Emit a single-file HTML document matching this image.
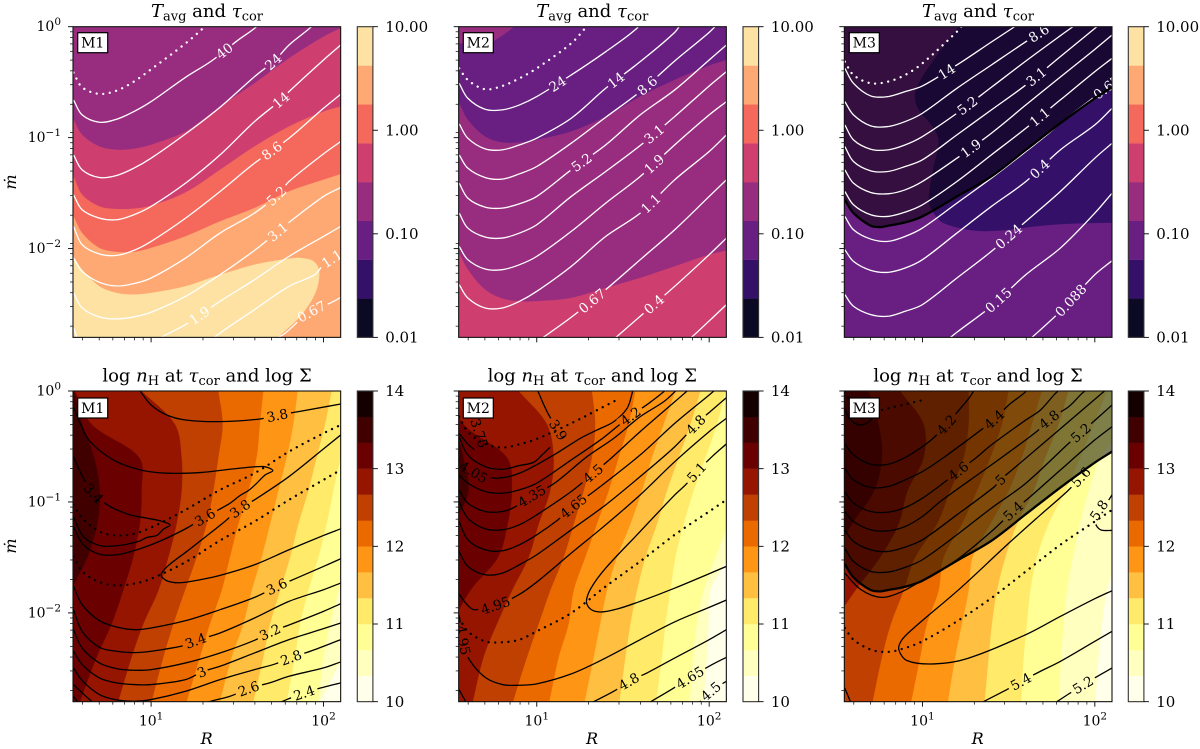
<!DOCTYPE html>
<html lang="en">
<head>
<meta charset="utf-8">
<title>Tavg, tau and density contour maps</title>
<style>
html,body{margin:0;padding:0;background:#fff;overflow:hidden;}
svg{display:block;font-family:"DejaVu Serif","Liberation Serif",serif;}
.t{font-size:18px;text-anchor:middle;fill:#000;}
.a{font-size:16px;font-style:italic;text-anchor:middle;fill:#000;}
.b{font-size:14px;text-anchor:middle;fill:#000;}
</style>
</head>
<body>
<svg id="fig" xmlns="http://www.w3.org/2000/svg" width="1200" height="749" viewBox="0 0 1200 749">
<rect width="1200" height="749" fill="#fff"/>
<defs id="defs"></defs>
<g id="plots"></g>

<g>
<text class="t" x="207" y="17"><tspan font-style="italic">T</tspan><tspan font-size="13" dy="3.5">avg</tspan><tspan dy="-3.5"> and </tspan><tspan font-style="italic">τ</tspan><tspan font-size="13" dy="3.5">cor</tspan></text>
<text class="t" x="592.3" y="17"><tspan font-style="italic">T</tspan><tspan font-size="13" dy="3.5">avg</tspan><tspan dy="-3.5"> and </tspan><tspan font-style="italic">τ</tspan><tspan font-size="13" dy="3.5">cor</tspan></text>
<text class="t" x="978" y="17"><tspan font-style="italic">T</tspan><tspan font-size="13" dy="3.5">avg</tspan><tspan dy="-3.5"> and </tspan><tspan font-style="italic">τ</tspan><tspan font-size="13" dy="3.5">cor</tspan></text>
<text class="t" x="207" y="381.5">log <tspan font-style="italic">n</tspan><tspan font-size="13" dy="3.5">H</tspan><tspan dy="-3.5"> at </tspan><tspan font-style="italic">τ</tspan><tspan font-size="13" dy="3.5">cor</tspan><tspan dy="-3.5"> and log Σ</tspan></text>
<text class="t" x="592.3" y="381.5">log <tspan font-style="italic">n</tspan><tspan font-size="13" dy="3.5">H</tspan><tspan dy="-3.5"> at </tspan><tspan font-style="italic">τ</tspan><tspan font-size="13" dy="3.5">cor</tspan><tspan dy="-3.5"> and log Σ</tspan></text>
<text class="t" x="978" y="381.5">log <tspan font-style="italic">n</tspan><tspan font-size="13" dy="3.5">H</tspan><tspan dy="-3.5"> at </tspan><tspan font-style="italic">τ</tspan><tspan font-size="13" dy="3.5">cor</tspan><tspan dy="-3.5"> and log Σ</tspan></text>
</g>

<g>
<text class="a" transform="translate(16,182) rotate(-90)">ṁ</text>
<text class="a" transform="translate(16,546) rotate(-90)">ṁ</text>
<text class="a" x="206.7" y="744">R</text>
<text class="a" x="592" y="744">R</text>
<text class="a" x="977.7" y="744">R</text>
</g>

<g>
<rect x="77.7" y="32.7" width="30" height="20" fill="#fff" stroke="#000" stroke-width="1.2"/>
<text class="b" x="92.7" y="47.7">M1</text>
<rect x="463.3" y="32.7" width="30" height="20" fill="#fff" stroke="#000" stroke-width="1.2"/>
<text class="b" x="478.3" y="47.7">M2</text>
<rect x="849.3" y="32.7" width="30" height="20" fill="#fff" stroke="#000" stroke-width="1.2"/>
<text class="b" x="864.3" y="47.7">M3</text>
<rect x="77.7" y="398" width="30" height="20" fill="#fff" stroke="#000" stroke-width="1.2"/>
<text class="b" x="92.7" y="413">M1</text>
<rect x="463.3" y="398" width="30" height="20" fill="#fff" stroke="#000" stroke-width="1.2"/>
<text class="b" x="478.3" y="413">M2</text>
<rect x="849.3" y="398" width="30" height="20" fill="#fff" stroke="#000" stroke-width="1.2"/>
<text class="b" x="864.3" y="413">M3</text>
</g>
</svg>

<script>
/* ---------- values: x = log10 R, y = log10 mdot ---------- */
const xGrid = [.55,.6,.7,.8,.9,1,1.2,1.4,1.6,1.8,2,2.1];
const yGrid = [0,-.3,-.6,-.9,-1.2,-1.5,-1.8,-2.1,-2.4,-2.8];
const xMajorTicks = [1,2];
const xMajorLabels = ['1','2'];
const xMinorTicks = [.602,.699,.778,.845,.903,.954,1.301,1.477,1.602,1.699,1.778,1.845,1.903,1.954];
const yMajorTicks = [0,-1,-2];
const yMajorLabels = ['0','−1','−2'];
const yMinorOffsets = [-.046,-.097,-.155,-.222,-.301,-.398,-.523,-.699,-.954];
const tempBarTicks = [-2,-1,0,1];
const tempBarLabels = ['0.01','0.10','1.00','10.00'];
const tempBarColors = ['#0b0924','#341069','#681f81','#982d80','#ce3f70','#f4695c','#fea973','#fde2a3'];
const densBarTicks = [10,11,12,13,14];
const densBarLabels = ['10','11','12','13','14'];
const densBarColors = ['#ffffea','#ffffbf','#ffff95','#ffea6a','#ffbf40','#ff9515','#ea6a00','#bf4000','#951500','#6a0000','#400000','#150000'];

/* M1 temperature */
const m1TempBandColors = ['#ce3f70','#f4695c','#fea973','#fde2a3'];
const m1TempBands = [
 [-.84,-.975,-1.08,-1.11,-1.101,-1.065,-.945,-.72,-.51,-.285,-.09,-.015],
 [-1.35,-1.515,-1.62,-1.644,-1.641,-1.614,-1.494,-1.29,-1.08,-.9,-.765,-.72],
 [-1.71,-1.86,-1.995,-2.031,-2.031,-1.995,-1.89,-1.755,-1.635,-1.485,-1.38,-1.329]
];
const m1TempBlob = [[.549,-2.07],[.6,-2.19],[.7,-2.34],[.8,-2.4],[.899,-2.415],[1,-2.4],[1.2,-2.34],[1.362,-2.256],[1.6,-2.145],[1.8,-2.091],[1.865,-2.085],[1.942,-2.115],[1.975,-2.205],[1.952,-2.4],[1.865,-2.61],[1.739,-2.796],[1.691,-2.88]];
const m1TempDotted = [[.55,-.414],[.6,-.546],[.7,-.606],[.8,-.576],[.9,-.495],[1,-.384],[1.2,-.15],[1.31,0],[1.35,.08]];
const m1TempLevels = ['40','24','14','8.6','5.2','3.1','1.9','1.1','0.67',''];
const m1TempLabelR = [1.43,1.72,1.77,1.71,1.74,1.75,1.284,2.05,1.936,0];
const m1TempCurves = [
 [[.55,-.66],[.6,-.795],[.7,-.861],[.8,-.834],[.9,-.765],[1,-.675],[1.2,-.456],[1.35,-.309],[1.5,-.126],[1.6,-.015],[1.65,.06]],
 [[.55,-1.155],[.6,-1.29],[.7,-1.359],[.8,-1.341],[.9,-1.275],[1,-1.185],[1.2,-.966],[1.4,-.726],[1.6,-.45],[1.72,-.3],[1.8,-.165],[1.93,0],[2,.12]],
 [[.55,-1.515],[.6,-1.65],[.7,-1.725],[.8,-1.74],[.9,-1.695],[1,-1.62],[1.2,-1.41],[1.4,-1.155],[1.6,-.855],[1.77,-.639],[1.8,-.585],[2,-.3],[2.1,-.165]],
 [-1.8,-1.965,-2.049,-2.061,-2.016,-1.935,-1.725,-1.485,-1.23,-1.005,-.735,-.609],
 [[.55,-2.085],[.6,-2.205],[.7,-2.304],[.8,-2.337],[.9,-2.316],[1,-2.265],[1.2,-2.085],[1.4,-1.86],[1.6,-1.68],[1.74,-1.506],[1.8,-1.395],[2,-1.146],[2.1,-1.035]],
 [[.55,-2.4],[.6,-2.535],[.7,-2.616],[.8,-2.634],[.9,-2.616],[1,-2.574],[1.2,-2.43],[1.4,-2.235],[1.6,-2.016],[1.75,-1.83],[1.8,-1.764],[2,-1.53],[2.1,-1.449]],
 [[1,-2.88],[1.06,-2.8],[1.2,-2.685],[1.4,-2.475],[1.6,-2.28],[1.8,-2.07],[2,-1.89],[2.1,-1.8]],
 [[1.3,-2.91],[1.37,-2.796],[1.6,-2.55],[1.8,-2.34],[1.95,-2.235],[2,-2.145],[2.1,-2.04]],
 [[1.7,-2.835],[1.78,-2.76],[1.9,-2.595],[2.06,-2.475],[2.1,-2.439]],
 [[.55,-2.715],[.57,-2.8],[.6,-2.91]]
];

/* M2 temperature */
const m2TempBandColors = ['#982d80','#ce3f70'];
const m2TempBands = [
 [-.69,-.84,-.99,-1.044,-1.044,-1.02,-.945,-.81,-.63,-.48,-.351,-.3],
 [-2.04,-2.19,-2.37,-2.451,-2.475,-2.475,-2.445,-2.355,-2.265,-2.16,-2.055,-2.019]
];
const m2TempPatch = [[.549,-.15],[.731,-.135],[.789,-.09],[.867,0],[.905,.06]];
const m2TempDotted = [[.55,-.375],[.6,-.48],[.7,-.564],[.8,-.534],[.9,-.465],[1,-.375],[1.2,-.15],[1.28,-.015],[1.33,.07]];
const m2TempLevels = ['24','14','8.6','5.2','3.1','1.9','1.1','0.67','0.4',''];
const m2TempLabelR = [1.137,1.462,1.66,1.263,1.698,1.698,1.669,1.34,1.689,0];
const m2TempCurves = [
 [[.55,-.51],[.6,-.645],[.7,-.744],[.8,-.75],[.9,-.705],[1,-.63],[1.2,-.435],[1.4,-.225],[1.58,-.015],[1.62,.09]],
 [[.55,-.876],[.6,-1.005],[.7,-1.101],[.8,-1.11],[.9,-1.065],[1,-1.005],[1.2,-.825],[1.4,-.555],[1.6,-.315],[1.8,-.051],[1.85,.06]],
 [[.55,-1.155],[.6,-1.275],[.7,-1.359],[.8,-1.374],[.9,-1.326],[1,-1.26],[1.2,-1.05],[1.4,-.816],[1.6,-.585],[1.8,-.309],[2,-.051],[2.07,.06]],
 [-1.41,-1.545,-1.626,-1.635,-1.596,-1.53,-1.29,-1.065,-.795,-.57,-.3,-.165],
 [-1.68,-1.815,-1.896,-1.905,-1.86,-1.785,-1.53,-1.305,-1.071,-.81,-.534,-.405],
 [-1.98,-2.1,-2.184,-2.19,-2.145,-2.07,-1.845,-1.59,-1.35,-1.065,-.795,-.675],
 [-2.325,-2.445,-2.535,-2.535,-2.475,-2.385,-2.16,-1.89,-1.68,-1.38,-1.125,-.975],
 [[1,-2.841],[1.2,-2.619],[1.4,-2.37],[1.6,-2.1],[1.8,-1.83],[2,-1.53],[2.1,-1.38]],
 [[1.4,-2.88],[1.6,-2.61],[1.8,-2.34],[2,-2.055],[2.1,-1.905]],
 [[1.8,-2.925],[1.9,-2.796],[2,-2.652],[2.1,-2.505]]
];

/* M3 temperature */
const m3TempRegion = [[1.24,.06],[1.066,-.3],[.963,-.57],[.969,-.72],[1.066,-.915],[1.095,-1.035],[1.066,-1.26],[1.037,-1.56],[1.066,-1.68],[1.124,-1.77],[1.298,-1.836],[1.453,-1.836],[1.646,-1.8],[1.839,-1.776],[2.149,-1.764]];
const m3Boundary = [[.55,-1.56],[.6,-1.68],[.7,-1.794],[.755,-1.806],[.8,-1.794],[.9,-1.764],[1,-1.71],[1.2,-1.53],[1.4,-1.35],[1.6,-1.11],[1.8,-.87],[2,-.645],[2.1,-.546]];
const m3TempDotted = [[.55,-.315],[.6,-.435],[.7,-.51],[.8,-.495],[.9,-.435],[1,-.33],[1.2,-.045],[1.24,.03]];
const m3TempLevels = ['14','8.6','5.2','3.1','1.9','1.1','0.67','0.4','0.24','0.15','0.088'];
const m3TempLabelR = [1.143,1.69,1.269,1.675,1.298,1.695,2.08,1.7,1.501,1.445,1.878];
const m3TempCurves = [
 [[.55,-.375],[.6,-.51],[.7,-.624],[.8,-.63],[.9,-.585],[1,-.534],[1.2,-.345],[1.4,-.138],[1.52,-.015],[1.6,.07]],
 [[.55,-.675],[.6,-.795],[.7,-.894],[.8,-.9],[.9,-.855],[1,-.78],[1.2,-.555],[1.4,-.345],[1.6,-.135],[1.75,.015],[1.8,.07]],
 [[.55,-.885],[.6,-1.02],[.7,-1.104],[.8,-1.11],[.9,-1.065],[1,-.99],[1.2,-.78],[1.4,-.546],[1.6,-.309],[1.8,-.081],[1.9,.03]],
 [[.55,-1.08],[.6,-1.215],[.7,-1.299],[.8,-1.305],[.9,-1.26],[1,-1.2],[1.2,-.975],[1.4,-.75],[1.6,-.525],[1.8,-.27],[2,-.015],[2.08,.09]],
 [-1.29,-1.41,-1.494,-1.506,-1.47,-1.395,-1.185,-.96,-.705,-.453,-.204,-.075],
 [-1.485,-1.605,-1.695,-1.71,-1.671,-1.605,-1.395,-1.155,-.915,-.66,-.405,-.285],
 [[.55,-1.71],[.6,-1.83],[.7,-1.914],[.8,-1.935],[.9,-1.89],[1,-1.815],[1.2,-1.59],[1.4,-1.365],[1.6,-1.125],[1.733,-.96],[1.8,-.87],[2,-.63],[2.1,-.51]],
 [-2.01,-2.115,-2.196,-2.214,-2.175,-2.1,-1.86,-1.62,-1.395,-1.11,-.885,-.735],
 [-2.415,-2.52,-2.595,-2.61,-2.565,-2.505,-2.265,-2.025,-1.755,-1.485,-1.185,-1.05],
 [[1.1,-2.88],[1.2,-2.754],[1.4,-2.52],[1.6,-2.235],[1.8,-1.995],[2,-1.68],[2.1,-1.5]],
 [[1.6,-2.85],[1.8,-2.565],[2,-2.235],[2.1,-2.109]]
];

/* M1 density */
const m1DensEdges = [
 [.553,.602,.671,.704,.689,.631,.54,.51,.51,.51],
 [.559,.656,.932,.946,.936,.897,.839,.772,.685,.588],
 [.946,1.139,1.178,1.178,1.149,1.101,1.043,.956,.888,.81],
 [1.391,1.416,1.391,1.362,1.323,1.265,1.197,1.13,1.072,1.004],
 [1.652,1.632,1.613,1.565,1.507,1.458,1.41,1.342,1.284,1.207],
 [1.851,1.826,1.787,1.739,1.691,1.642,1.584,1.536,1.468,1.4],
 [2.048,2.01,1.961,1.913,1.855,1.807,1.749,1.691,1.652,1.594],
 [2.174,2.145,2.1,2.058,2.019,1.971,1.913,1.865,1.836,1.787],
 [2.29,2.271,2.242,2.213,2.174,2.126,2.087,2.039,2,1.971],
 [2.7,2.7,2.7,2.6,2.5,2.45,2.39,2.25,2.116,1.98]
];
const m1DensDotted = [
 [-1.026,-1.146,-1.266,-1.302,-1.287,-1.23,-1.071,-.891,-.741,-.546,-.381,-.306],
 [-1.491,-1.626,-1.722,-1.752,-1.737,-1.692,-1.542,-1.347,-1.176,-.981,-.801,-.711]
];
const m1DensLevels = ['3.8','3.6','3.4','3.8','3.6','3.4','3.2','3','2.8','2.6','2.4','',''];
const m1DensLabelR = [1.743,1.304,.675,1.507,1.743,1.265,1.7,1.304,1.822,1.578,1.899,0,0];
const m1DensLabelFrom = [0,10,0,0,0,0,0,0,0,0,0,0,0];
const m1DensCurves = [
 [[.897,.084],[.936,0],[1,-.126],[1.091,-.216],[1.2,-.261],[1.4,-.276],[1.632,-.252],[1.743,-.216],[1.855,-.186],[2.1,-.117]],
 [[.553,-.156],[.588,-.291],[.646,-.456],[.781,-.621],[.936,-.711],[1.091,-.741],[1.284,-.735],[1.478,-.702],[1.652,-.681],[1.706,-.717],[1.662,-.756],[1.613,-.831],[1.565,-.897],[1.516,-.942],[1.458,-1.011],[1.391,-1.071],[1.304,-1.146],[1.207,-1.236],[1.091,-1.326],[1,-1.386],[.899,-1.44],[.801,-1.476],[.7,-1.47],[.607,-1.386],[.549,-1.221]],
 [[.549,-.591],[.607,-.786],[.675,-.936],[.762,-1.041],[.878,-1.116],[.975,-1.146],[1.052,-1.17],[1.11,-1.206],[1.072,-1.245],[1.033,-1.302],[.975,-1.32],[.926,-1.356],[.801,-1.395],[.7,-1.392],[.607,-1.311],[.549,-1.131]],
 [[2.1,-.396],[2,-.522],[1.8,-.771],[1.6,-.981],[1.507,-1.071],[1.416,-1.191],[1.207,-1.446],[1.101,-1.572],[1.058,-1.656],[1.091,-1.71],[1.168,-1.728],[1.284,-1.701],[1.4,-1.662],[1.6,-1.566],[1.8,-1.431],[2,-1.302],[2.1,-1.242]],
 [[.55,-1.761],[.6,-1.926],[.7,-2.07],[.8,-2.127],[.9,-2.151],[1,-2.136],[1.2,-2.07],[1.4,-1.971],[1.6,-1.86],[1.743,-1.752],[1.8,-1.716],[2,-1.581],[2.1,-1.512]],
 [[.55,-1.971],[.6,-2.166],[.7,-2.31],[.8,-2.346],[.9,-2.358],[1,-2.346],[1.2,-2.292],[1.265,-2.247],[1.4,-2.181],[1.6,-2.046],[1.8,-1.896],[2,-1.791],[2.1,-1.731]],
 [[.55,-2.151],[.6,-2.316],[.7,-2.451],[.8,-2.502],[.9,-2.517],[1,-2.511],[1.2,-2.451],[1.4,-2.361],[1.6,-2.247],[1.7,-2.166],[1.8,-2.109],[2,-1.986],[2.1,-1.917]],
 [[.55,-2.346],[.6,-2.466],[.7,-2.586],[.8,-2.631],[.9,-2.646],[1,-2.646],[1.2,-2.601],[1.304,-2.526],[1.4,-2.481],[1.6,-2.361],[1.8,-2.241],[2,-2.142],[2.1,-2.091]],
 [[.55,-2.496],[.6,-2.61],[.7,-2.736],[.8,-2.784],[.9,-2.796],[1,-2.781],[1.2,-2.706],[1.4,-2.601],[1.6,-2.511],[1.72,-2.46],[1.822,-2.397],[1.923,-2.346],[2.1,-2.241]],
 [[1.246,-2.856],[1.342,-2.799],[1.458,-2.751],[1.578,-2.676],[1.687,-2.631],[1.8,-2.571],[2,-2.496],[2.1,-2.442]],
 [[1.671,-2.856],[1.787,-2.781],[1.899,-2.715],[2,-2.67],[2.1,-2.631]],
 [[.55,-2.646],[.6,-2.721],[.665,-2.811]],
 [[.549,-2.751],[.578,-2.811]]
];

/* M2 density */
const m2DensEdges = [
 [.499,.528,.576,.605,.528,.5,.5,.5,.5,.5],
 [.499,.576,.828,.857,.832,.776,.615,.518,.499,.499],
 [.896,1.06,1.099,1.079,1.012,.954,.857,.77,.692,.63],
 [1.321,1.34,1.321,1.273,1.215,1.157,1.079,1.012,.944,.863],
 [1.573,1.534,1.476,1.418,1.35,1.282,1.215,1.186,1.128,1.074],
 [1.805,1.737,1.669,1.611,1.544,1.466,1.408,1.369,1.331,1.279],
 [1.95,1.892,1.824,1.756,1.698,1.631,1.582,1.544,1.515,1.48],
 [2.095,2.046,1.979,1.911,1.853,1.805,1.776,1.747,1.727,1.694],
 [2.375,2.317,2.259,2.201,2.114,2.037,1.969,1.93,1.907,1.888],
 [2.4,2.4,2.4,2.35,2.259,2.114,2.008,1.998,1.988,1.969]
];
const m2DensDotted = [
 [[.55,-.231],[.6,-.366],[.7,-.477],[.8,-.51],[.9,-.48],[1,-.432],[1.2,-.291],[1.4,-.132],[1.456,-.087]],
 [-2.046,-2.166,-2.256,-2.265,-2.241,-2.166,-2.001,-1.761,-1.536,-1.296,-1.086,-.981]
];
const m2DensLevels = ['3.9','','','4.05','4.2','4.35','4.5','4.65','4.8','4.95','5.1','4.95','4.8','4.65','4.5',''];
const m2DensLabelR = [1.13,0,0,.644,1.553,.983,1.34,1.224,1.936,.774,1.934,.576,1.544,1.901,2.021,0];
const m2DensLabelFrom = [0,0,0,0,0,0,0,0,0,0,7,0,0,0,0,0];
const m2DensCurves = [
 [[.97,.1],[1.006,0],[1.037,-.111],[1.072,-.222],[1.13,-.366]],
 [[.549,-.381],[.596,-.471],[.638,-.531]],
 [[.549,-.411],[.6,-.576],[.7,-.681],[.801,-.705],[.899,-.672],[.983,-.642],[1.031,-.576],[1.077,-.507]],
 [[.549,-.621],[.644,-.741],[.76,-.786],[.899,-.741],[1.099,-.576],[1.253,-.426],[1.35,-.351],[1.447,-.276],[1.524,-.156],[1.553,-.021],[1.557,.024]],
 [[.549,-.756],[.6,-.831],[.7,-.906],[.801,-.921],[.899,-.891],[1,-.831],[1.2,-.621],[1.369,-.441],[1.466,-.321],[1.553,-.216],[1.65,-.111],[1.737,-.006],[1.776,.054]],
 [[.549,-.891],[.6,-1.011],[.7,-1.086],[.801,-1.086],[.867,-1.05],[.983,-.936],[1.103,-.831],[1.292,-.591],[1.447,-.426],[1.6,-.231],[1.737,-.096],[1.805,0],[1.834,.054]],
 [[.549,-.996],[.6,-1.146],[.7,-1.242],[.801,-1.251],[.899,-1.206],[1,-1.116],[1.2,-.906],[1.34,-.726],[1.431,-.606],[1.6,-.366],[1.801,-.096],[1.872,0],[1.911,.054]],
 [[.549,-1.176],[.6,-1.341],[.7,-1.431],[.801,-1.44],[.899,-1.386],[1,-1.296],[1.118,-1.167],[1.224,-1.026],[1.331,-.906],[1.6,-.576],[1.801,-.291],[2,-.036],[2.046,.024]],
 [[.549,-1.446],[.6,-1.581],[.7,-1.656],[.801,-1.641],[.899,-1.566],[1,-1.476],[1.2,-1.251],[1.4,-1.026],[1.6,-.771],[1.801,-.501],[1.936,-.282],[2.017,-.171],[2.1,-.06]],
 [[.549,-1.83],[.596,-1.926],[.638,-1.971],[.774,-1.926],[.896,-1.836],[1,-1.722],[1.2,-1.461],[1.4,-1.206],[1.6,-.936],[1.801,-.636],[2,-.366],[2.1,-.246]],
 [[2.1,-1.581],[1.801,-1.776],[1.6,-1.896],[1.466,-1.965],[1.369,-1.992],[1.311,-1.965],[1.288,-1.896],[1.315,-1.776],[1.4,-1.596],[1.6,-1.266],[1.801,-.936],[1.863,-.846],[1.934,-.72],[2.017,-.591],[2.1,-.477]],
 [[.549,-2.016],[.576,-2.271],[.609,-2.421],[.7,-2.58],[.801,-2.646],[.899,-2.652],[1,-2.64],[1.2,-2.55],[1.4,-2.406],[1.6,-2.241],[1.801,-2.08],[2,-1.95],[2.1,-1.884]],
 [[1.253,-2.856],[1.331,-2.799],[1.447,-2.706],[1.544,-2.61],[1.64,-2.541],[1.801,-2.406],[2,-2.241],[2.1,-2.151]],
 [[1.602,-2.856],[1.663,-2.799],[1.78,-2.691],[1.901,-2.571],[2.017,-2.466],[2.1,-2.4]],
 [[1.911,-2.856],[2.021,-2.691],[2.1,-2.616]],
 [[.549,-2.691],[.592,-2.811]]
];
const m2DensFreeLabels = ['3.75'];
const m2DensFreeR = [.667];
const m2DensFreeMdot = [-.381];
const m2DensFreeAngle = [72];

/* M3 density */
const m3DensEdges = [
 [.689,.747,.766,.721,.592,.485,.408,.408,.408,.408],
 [.872,1.008,1.008,.915,.863,.756,.611,.485,.408,.331],
 [1.269,1.269,1.24,1.162,1.085,.959,.892,.818,.766,.712],
 [1.501,1.462,1.395,1.317,1.23,1.124,1.095,1.027,.988,.936],
 [1.694,1.636,1.578,1.501,1.395,1.292,1.269,1.23,1.191,1.149],
 [1.849,1.791,1.714,1.646,1.549,1.482,1.433,1.404,1.385,1.362],
 [2.072,1.994,1.917,1.83,1.733,1.665,1.627,1.607,1.588,1.574],
 [2.304,2.178,2.033,1.965,1.913,1.874,1.839,1.82,1.805,1.791],
 [2.55,2.42,2.323,2.265,2.197,2.13,2.072,2.043,2.023,2.004]
];
const m3DensDotted = [
 [[.549,-.006],[.6,-.126],[.7,-.186],[.801,-.156],[.9,-.12],[.998,-.084]],
 [-2.136,-2.241,-2.331,-2.352,-2.316,-2.256,-2.076,-1.866,-1.626,-1.386,-1.176,-1.071]
];
const m3DensLevels = ['','4.2','4.4','4.6','4.8','5','5.2','5.4','5.6','5.4','5.2','5.8',''];
const m3DensLabelR = [0,1.147,1.424,1.217,1.743,1.458,1.926,1.54,1.913,1.582,1.94,2.019,0];
const m3DensLabelFrom = [0,0,0,0,0,0,0,0,0,0,0,0,0];
const m3DensCurves = [
 [[.549,-.156],[.576,-.246],[.634,-.306],[.692,-.276],[.721,-.201]],
 [[.549,-.471],[.6,-.576],[.7,-.66],[.801,-.66],[.9,-.6],[1,-.501],[1.066,-.42],[1.147,-.291],[1.221,-.156],[1.269,-.066],[1.308,.024]],
 [[.549,-.696],[.6,-.801],[.7,-.87],[.801,-.861],[.9,-.801],[1,-.726],[1.104,-.621],[1.34,-.351],[1.424,-.246],[1.501,-.126],[1.588,-.021],[1.627,.039]],
 [[.549,-.906],[.6,-1.011],[.7,-1.086],[.801,-1.092],[.9,-1.05],[1,-.966],[1.133,-.816],[1.217,-.711],[1.308,-.606],[1.4,-.486],[1.6,-.261],[1.685,-.171],[1.772,-.021],[1.82,.039]],
 [[.549,-1.086],[.6,-1.176],[.7,-1.251],[.801,-1.26],[.9,-1.221],[1,-1.131],[1.104,-.996],[1.4,-.666],[1.662,-.366],[1.743,-.246],[1.849,-.141],[1.926,-.021],[1.975,.039]],
 [[.549,-1.251],[.6,-1.356],[.7,-1.431],[.801,-1.446],[.9,-1.407],[1,-1.341],[1.2,-1.116],[1.414,-.867],[1.458,-.792],[1.52,-.711],[1.801,-.339],[2.052,-.006],[2.1,.054]],
 [[.549,-1.416],[.6,-1.536],[.7,-1.626],[.801,-1.632],[.9,-1.59],[1,-1.521],[1.2,-1.296],[1.4,-1.056],[1.6,-.831],[1.849,-.471],[1.926,-.366],[2.014,-.246],[2.1,-.126]],
 [[.549,-1.641],[.644,-1.791],[.76,-1.86],[.876,-1.812],[.988,-1.716],[1.2,-1.521],[1.4,-1.266],[1.54,-1.062],[1.627,-.951],[1.801,-.711],[2,-.441],[2.1,-.321]],
 [[1.975,-.681],[1.913,-.786],[1.839,-.906],[1.685,-1.116],[1.491,-1.386],[1.221,-1.776],[.95,-2.136],[.882,-2.241],[.863,-2.331],[.911,-2.43],[1.066,-2.46],[1.259,-2.412],[1.6,-2.196],[1.801,-2.031],[2,-1.872],[2.1,-1.8]],
 [[1.298,-2.856],[1.356,-2.799],[1.472,-2.706],[1.582,-2.61],[1.685,-2.526],[1.801,-2.436],[2,-2.256],[2.1,-2.166]],
 [[1.723,-2.856],[1.781,-2.799],[1.849,-2.73],[1.94,-2.64],[2.033,-2.556],[2.1,-2.496]],
 [[2.12,-.876],[2.081,-.981],[2.019,-1.086],[2.004,-1.191],[2.033,-1.251],[2.1,-1.257]],
 [[.549,-2.676],[.582,-2.799]]
];

/* ---------- layout and axis functions ---------- */
const NS = 'http://www.w3.org/2000/svg';
const colLeft = [73,458.67,844.33];
const rowTop = [26.7,391];
const barLeft = [357.3,743,1128.3];
const panelW = 267.67, panelH = 310.67, barW = 15.6;
const xLogMin = .547, xPx = 172.4, yPx = 110.95;
const farRight = 2.55, farLeft = .5, farBelow = -2.9, farAbove = .2;
const tagNames = ['m1','m2','m3'];
const plots = document.getElementById('plots');
const defs = document.getElementById('defs');

function xAxis(col,u){ return colLeft[col] + (u - xLogMin) * xPx; }
function yAxis(row,v){ return rowTop[row] - v * yPx; }
function mk(tag,attrs,parent){
  const el = document.createElementNS(NS,tag);
  for (const k in attrs) el.setAttribute(k,attrs[k]);
  parent.appendChild(el);
  return el;
}
function normalize(c){
  return typeof c[0] === 'number' ? c.map((v,i)=>[xGrid[i],v]) : c;
}
function toPx(col,row,c){
  return normalize(c).map(p=>[xAxis(col,p[0]),yAxis(row,p[1])]);
}
/* chord-length spline so unevenly spaced readings do not kink */
function segments(p){
  const n=p.length, dist=[], tan=[];
  for (let i=0;i<n-1;i++) dist.push(Math.hypot(p[i+1][0]-p[i][0],p[i+1][1]-p[i][1])||.001);
  for (let i=0;i<n;i++){
    const a=p[Math.max(i-1,0)],c=p[Math.min(i+1,n-1)];
    const dd=(i>0?dist[i-1]:0)+(i<n-1?dist[i]:0);
    tan.push([(c[0]-a[0])/dd,(c[1]-a[1])/dd]);
  }
  const out=[];
  for (let i=0;i<n-1;i++){
    const h=dist[i]/3;
    out.push({b:p[i],c1:[p[i][0]+tan[i][0]*h,p[i][1]+tan[i][1]*h],c2:[p[i+1][0]-tan[i+1][0]*h,p[i+1][1]-tan[i+1][1]*h],c:p[i+1]});
  }
  return out;
}
function smoothD(p){
  let d='M'+p[0][0].toFixed(2)+' '+p[0][1].toFixed(2);
  segments(p).forEach(s=>{
    d+='C'+s.c1[0].toFixed(2)+' '+s.c1[1].toFixed(2)+' '+s.c2[0].toFixed(2)+' '+s.c2[1].toFixed(2)+' '+s.c[0].toFixed(2)+' '+s.c[1].toFixed(2);
  });
  return d;
}
function sampleCurve(p){
  const out=[];
  segments(p).forEach((s,i)=>{
    for (let k=0;k<10;k++){
      const t=k/10,m=1-t;
      out.push({i:i,
        x:m*m*m*s.b[0]+3*m*m*t*s.c1[0]+3*m*t*t*s.c2[0]+t*t*t*s.c[0],
        y:m*m*m*s.b[1]+3*m*m*t*s.c1[1]+3*m*t*t*s.c2[1]+t*t*t*s.c[1]});
    }
  });
  const l=p[p.length-1];
  out.push({i:p.length-1,x:l[0],y:l[1]});
  return out;
}
function findLabelSpot(px,xTarget,from){
  const s=sampleCurve(px);
  for (let j=0;j<s.length-1;j++){
    if (s[j].i<from) continue;
    if ((s[j].x-xTarget)*(s[j+1].x-xTarget)<=0){
      const a=s[Math.max(j-4,0)],b=s[Math.min(j+5,s.length-1)];
      let ang=Math.atan2(b.y-a.y,b.x-a.x)*180/Math.PI;
      if (ang>90) ang-=180;
      if (ang<-90) ang+=180;
      return {x:s[j].x,y:s[j].y,ang:ang};
    }
  }
  return null;
}
function addFill(layer,col,row,color,curve,closure){
  const px=toPx(col,row,curve);
  let d=smoothD(px);
  closure.forEach(q=>{ d+='L'+xAxis(col,q[0]).toFixed(2)+' '+yAxis(row,q[1]).toFixed(2); });
  const el=mk('path',{d:d+'Z',fill:color,stroke:color,'stroke-width':.3},layer);
  
  
  return el;
}
function addGridEdgeFills(layer,col,row,edges,colors){
  edges.forEach((e,i)=>{
    addFill(layer,col,row,colors[i],e.map((u,k)=>[u,yGrid[k]]),[[farRight,farBelow],[farRight,farAbove]]);
  });
}
function addBelowFills(layer,col,row,bands,colors){
  bands.forEach((b,i)=>{ addFill(layer,col,row,colors[i],b,[[farRight,farBelow],[farLeft,farBelow]]); });
}

function drawAxes(col,row,labelX,labelY){
  const L=colLeft[col],T=rowTop[row],R=L+panelW,B=T+panelH;
  const g=mk('g',{stroke:'#000','stroke-width':.9},plots);
  
  
  xMajorTicks.forEach((u,i)=>{
    const x=xAxis(col,u);
    const tick=mk('line',{x1:x,x2:x,y1:B,y2:B+5},g);
    
    
    if (labelX){
      const t=mk('text',{x:x,y:B+24,'text-anchor':'middle','font-size':14,stroke:'none',fill:'#000'},g);
      
      
      t.appendChild(document.createTextNode('10'));
      const s=mk('tspan',{'font-size':10.5,dy:-6},t);
      s.textContent=xMajorLabels[i];
    }
  });
  xMinorTicks.forEach(u=>{
    const x=xAxis(col,u);
    const tick=mk('line',{x1:x,x2:x,y1:B,y2:B+3,'stroke-width':.7},g);
    
    
  });
  yMajorTicks.forEach((v,i)=>{
    const y=yAxis(row,v);
    const tick=mk('line',{x1:L-5,x2:L,y1:y,y2:y},g);
    
    
    if (labelY){
      const t=mk('text',{x:L-12,y:y+4.5,'text-anchor':'end','font-size':14,stroke:'none',fill:'#000'},g);
      
      
      t.appendChild(document.createTextNode('10'));
      const s=mk('tspan',{'font-size':10.5,dy:-6},t);
      s.textContent=yMajorLabels[i];
    }
    yMinorOffsets.forEach(o=>{
      const vv=v+o;
      if (vv<-2.8) return;
      const yy=yAxis(row,vv);
      const m=mk('line',{x1:L-3,x2:L,y1:yy,y2:yy,'stroke-width':.7},g);
      
      
    });
  });
  const frame=mk('rect',{x:L,y:T,width:panelW,height:panelH,fill:'none',stroke:'#111','stroke-width':1.1},plots);
  
  
}

function drawColorbar(col,row,colors,tickVals,tickLabels,vMin,vMax){
  const L=barLeft[col],T=rowTop[row],H=panelH;
  const g=mk('g',{},plots);
  
  
  const y=v=>T+(vMax-v)/(vMax-vMin)*H;
  const step=(vMax-vMin)/colors.length;
  colors.forEach((c,i)=>{
    const lo=vMin+i*step,hi=lo+step;
    const r=mk('rect',{x:L,y:y(hi),width:barW,height:y(lo)-y(hi)+.2,fill:c},g);
    
    
  });
  const out=mk('rect',{x:L,y:T,width:barW,height:H,fill:'none',stroke:'#333','stroke-width':1.1},g);
  
  
  tickVals.forEach((v,i)=>{
    const yy=y(v);
    const tick=mk('line',{x1:L+barW,x2:L+barW+5,y1:yy,y2:yy,stroke:'#000','stroke-width':.9},g);
    
    
    const t=mk('text',{x:L+barW+12.3,y:yy+5.2,'font-size':15,fill:'#000'},g);
    
    
    t.textContent=tickLabels[i];
  });
}

function panelLayers(col,row){
  const id='p'+col+row;
  const clip=mk('clipPath',{id:'clip'+id},defs);
  mk('rect',{x:colLeft[col],y:rowTop[row],width:panelW,height:panelH},clip);
  const g=mk('g',{'clip-path':'url(#clip'+id+')'},plots);
  
  
  return g;
}

function drawLines(g,col,row,color,levels,curves,labelR,labelFrom,dotted,thick,free){
  const id='m'+col+row;
  const mask=mk('mask',{id:id,maskUnits:'userSpaceOnUse',x:0,y:0,width:1200,height:749},defs);
  mk('rect',{x:0,y:0,width:1200,height:749,fill:'#fff'},mask);
  const lineG=mk('g',{mask:'url(#'+id+')',fill:'none',stroke:color,'stroke-width':1.3},g);
  
  
  const labelG=mk('g',{},g);
  
  
  function putLabel(text,x,y,ang){
    const w=text.length*7.6+5;
    mk('rect',{x:x-w/2,y:y-5.5,width:w,height:11,fill:'#000',transform:'rotate('+ang.toFixed(1)+' '+x.toFixed(2)+' '+y.toFixed(2)+')'},mask);
    const t=mk('text',{x:x.toFixed(2),y:(y+4.8).toFixed(2),'text-anchor':'middle','font-size':13.5,fill:color,transform:'rotate('+ang.toFixed(1)+' '+x.toFixed(2)+' '+y.toFixed(2)+')'},labelG);
    
    
    t.textContent=text;
  }
  curves.forEach((c,i)=>{
    const px=toPx(col,row,c);
    const el=mk('path',{d:smoothD(px)},lineG);
    
    
    if (levels[i]){
      const spot=findLabelSpot(px,xAxis(col,labelR[i]),labelFrom?labelFrom[i]:0);
      if (spot) putLabel(levels[i],spot.x,spot.y,spot.ang);
    }
  });
  if (free){
    free.text.forEach((s,i)=>{
      putLabel(s,xAxis(col,free.r[i]),yAxis(row,free.m[i]),free.a[i]);
    });
  }
  dotted.forEach(c=>{
    const el=mk('path',{d:smoothD(toPx(col,row,c)),fill:'none',stroke:color,'stroke-width':2.3,'stroke-linecap':'round','stroke-dasharray':'0.01 6.6'},g);
    
    
  });
  if (thick){
    const el=mk('path',{d:smoothD(toPx(col,row,thick)),fill:'none',stroke:'#000','stroke-width':2.3},g);
    
    
  }
}

function addOverlay(g,col,row){
  const el=addFill(g,col,row,'#000',m3Boundary,[[2.2,-.46],[2.2,farAbove],[farLeft,farAbove],[farLeft,-1.56]]);
  el.setAttribute('fill-opacity','.5');
  el.setAttribute('stroke','none');
  
  
}
function basePlate(g,col,row,color){
  const el=mk('rect',{x:colLeft[col],y:rowTop[row],width:panelW,height:panelH,fill:color},g);
  
  
}

/* ---------- draw ---------- */
const dens = densBarColors.slice().reverse(); /* dark to light */
let g;

/* M1 temperature */
g=panelLayers(0,0);
basePlate(g,0,0,'#982d80');
addBelowFills(g,0,0,m1TempBands,m1TempBandColors);
addFill(g,0,0,m1TempBandColors[3],m1TempBlob,[[farLeft,farBelow]]);
drawLines(g,0,0,'#fff',m1TempLevels,m1TempCurves,m1TempLabelR,null,[m1TempDotted],null,null);
drawAxes(0,0,false,true);
drawColorbar(0,0,tempBarColors,tempBarTicks,tempBarLabels,-2,1);

/* M2 temperature */
g=panelLayers(1,0);
basePlate(g,1,0,'#681f81');
addFill(g,1,0,'#982d80',m2TempPatch,[[farLeft,farAbove]]);
addBelowFills(g,1,0,m2TempBands,m2TempBandColors);
drawLines(g,1,0,'#fff',m2TempLevels,m2TempCurves,m2TempLabelR,null,[m2TempDotted],null,null);
drawAxes(1,0,false,false);
drawColorbar(1,0,tempBarColors,tempBarTicks,tempBarLabels,-2,1);

/* M3 temperature */
g=panelLayers(2,0);
basePlate(g,2,0,'#681f81');
addFill(g,2,0,'#341069',m3TempRegion,[[farRight,-1.764],[farRight,farAbove],[1.24,farAbove]]);
addOverlay(g,2,0);
drawLines(g,2,0,'#fff',m3TempLevels,m3TempCurves,m3TempLabelR,null,[m3TempDotted],m3Boundary,null);
drawAxes(2,0,false,false);
drawColorbar(2,0,tempBarColors,tempBarTicks,tempBarLabels,-2,1);

/* M1 density */
g=panelLayers(0,1);
basePlate(g,0,1,dens[1]);
addGridEdgeFills(g,0,1,m1DensEdges,dens.slice(2));
drawLines(g,0,1,'#000',m1DensLevels,m1DensCurves,m1DensLabelR,m1DensLabelFrom,m1DensDotted,null,null);
drawAxes(0,1,true,true);
drawColorbar(0,1,densBarColors,densBarTicks,densBarLabels,10,14);

/* M2 density */
g=panelLayers(1,1);
basePlate(g,1,1,dens[1]);
addGridEdgeFills(g,1,1,m2DensEdges,dens.slice(2));
drawLines(g,1,1,'#000',m2DensLevels,m2DensCurves,m2DensLabelR,m2DensLabelFrom,m2DensDotted,null,
  {text:m2DensFreeLabels,r:m2DensFreeR,m:m2DensFreeMdot,a:m2DensFreeAngle});
drawAxes(1,1,true,false);
drawColorbar(1,1,densBarColors,densBarTicks,densBarLabels,10,14);

/* M3 density */
g=panelLayers(2,1);
basePlate(g,2,1,dens[2]);
addGridEdgeFills(g,2,1,m3DensEdges,dens.slice(3));
addOverlay(g,2,1);
drawLines(g,2,1,'#000',m3DensLevels,m3DensCurves,m3DensLabelR,m3DensLabelFrom,m3DensDotted,m3Boundary,null);
drawAxes(2,1,true,false);
drawColorbar(2,1,densBarColors,densBarTicks,densBarLabels,10,14);
</script>
</body>
</html>
